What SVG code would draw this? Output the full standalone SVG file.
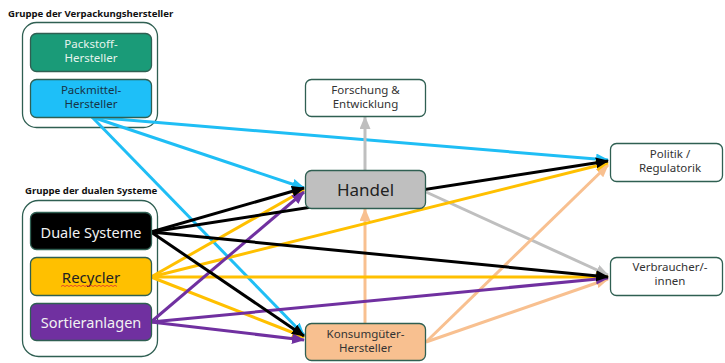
<svg xmlns="http://www.w3.org/2000/svg" width="725" height="363" viewBox="0 0 725 363">
<defs>
<style>
.t{font-family:"Noto Sans","Open Sans","DejaVu Sans",sans-serif;text-anchor:middle}
.title{font-family:"Noto Sans","Open Sans","DejaVu Sans",sans-serif;font-weight:bold;font-size:9.6px;fill:#111}
.grp{fill:#fff;stroke:#2f5f52;stroke-width:1.3}
.node{stroke:#2f5f52;stroke-width:1.3}
.c{fill:none;stroke-width:3}
</style>
<marker id="mBlue" markerUnits="userSpaceOnUse" markerWidth="13" markerHeight="11" refX="12" refY="5.5" orient="auto"><path d="M0,0 L13,5.5 L0,11 z" fill="#1fbef5"/></marker>
<marker id="mBlack" markerUnits="userSpaceOnUse" markerWidth="13" markerHeight="11" refX="12" refY="5.5" orient="auto"><path d="M0,0 L13,5.5 L0,11 z" fill="#000"/></marker>
<marker id="mYellow" markerUnits="userSpaceOnUse" markerWidth="13" markerHeight="11" refX="12" refY="5.5" orient="auto"><path d="M0,0 L13,5.5 L0,11 z" fill="#ffc000"/></marker>
<marker id="mPurple" markerUnits="userSpaceOnUse" markerWidth="13" markerHeight="11" refX="12" refY="5.5" orient="auto"><path d="M0,0 L13,5.5 L0,11 z" fill="#7030a0"/></marker>
<marker id="mGray" markerUnits="userSpaceOnUse" markerWidth="13" markerHeight="11" refX="12" refY="5.5" orient="auto"><path d="M0,0 L13,5.5 L0,11 z" fill="#bfbfbf"/></marker>
<marker id="mPeach" markerUnits="userSpaceOnUse" markerWidth="13" markerHeight="11" refX="12" refY="5.5" orient="auto"><path d="M0,0 L13,5.5 L0,11 z" fill="#f8c090"/></marker>
</defs>
<rect width="725" height="363" fill="#fff"/>

<g id="groups">
<text class="title" x="8" y="17">Gruppe der Verpackungshersteller</text>
<rect class="grp" x="22.5" y="22.5" width="135" height="105" rx="14"/>
<text class="title" x="25" y="194">Gruppe der dualen Systeme</text>
<rect class="grp" x="22.5" y="200.5" width="135" height="156" rx="16"/>
</g>

<g id="connectors">
<line class="c" stroke="#1fbef5" x1="92" y1="117" x2="608" y2="160" marker-end="url(#mBlue)"/>
<line class="c" stroke="#1fbef5" x1="92" y1="117" x2="304" y2="188" marker-end="url(#mBlue)"/>
<line class="c" stroke="#1fbef5" x1="92" y1="117" x2="304" y2="335" marker-end="url(#mBlue)"/>
<line class="c" stroke="#bfbfbf" x1="365" y1="170" x2="365" y2="117" marker-end="url(#mGray)"/>
<line class="c" stroke="#bfbfbf" x1="426" y1="192" x2="608" y2="275" marker-end="url(#mGray)"/>
<line class="c" stroke="#f8c090" x1="365" y1="323" x2="365" y2="209" marker-end="url(#mPeach)"/>
<line class="c" stroke="#f8c090" x1="426" y1="342" x2="608" y2="165" marker-end="url(#mPeach)"/>
<line class="c" stroke="#f8c090" x1="426" y1="342" x2="608" y2="279" marker-end="url(#mPeach)"/>
<line class="c" stroke="#ffc000" x1="151" y1="277" x2="304" y2="190" marker-end="url(#mYellow)"/>
<line class="c" stroke="#ffc000" x1="151" y1="277" x2="608" y2="163" marker-end="url(#mYellow)"/>
<line class="c" stroke="#ffc000" x1="151" y1="277" x2="608" y2="277" marker-end="url(#mYellow)"/>
<line class="c" stroke="#ffc000" x1="151" y1="277" x2="304" y2="337" marker-end="url(#mYellow)"/>
<line class="c" stroke="#7030a0" x1="151" y1="322" x2="304" y2="192" marker-end="url(#mPurple)"/>
<line class="c" stroke="#7030a0" x1="151" y1="322" x2="608" y2="278" marker-end="url(#mPurple)"/>
<line class="c" stroke="#7030a0" x1="151" y1="322" x2="304" y2="340" marker-end="url(#mPurple)"/>
<line class="c" stroke="#000" x1="151" y1="232" x2="304" y2="188" marker-end="url(#mBlack)"/>
<line class="c" stroke="#000" x1="151" y1="232" x2="608" y2="161" marker-end="url(#mBlack)"/>
<line class="c" stroke="#000" x1="151" y1="232" x2="608" y2="277" marker-end="url(#mBlack)"/>
<line class="c" stroke="#000" x1="151" y1="232" x2="304" y2="336" marker-end="url(#mBlack)"/>
</g>

<g id="packstoff">
<rect class="node" x="30.5" y="33.5" width="121" height="38" rx="6" fill="#1a9b78"/>
<text class="t" x="91" y="48" font-size="11.5" fill="#e6f4ee">Packstoff-</text>
<text class="t" x="91" y="62" font-size="11.5" fill="#e6f4ee">Hersteller</text>
</g>
<g id="packmittel">
<rect class="node" x="30.5" y="79.5" width="121" height="38" rx="6" fill="#1ebff8"/>
<text class="t" x="91" y="94" font-size="11.5" fill="#173447">Packmittel-</text>
<text class="t" x="91" y="108" font-size="11.5" fill="#173447">Hersteller</text>
</g>
<g id="duale">
<rect class="node" x="30.5" y="212.5" width="121" height="37" rx="6" fill="#000"/>
<text class="t" x="91" y="237.5" font-size="14.5" fill="#f2f2f2">Duale Systeme</text>
</g>
<g id="recycler">
<rect class="node" x="30.5" y="257.5" width="121" height="38" rx="6" fill="#ffc000"/>
<text class="t" x="91" y="283" font-size="15" fill="#222">Recycler</text>
<path d="M61,286.5 l2,-1.2 l2,1.2 l2,-1.2 l2,1.2 l2,-1.2 l2,1.2 l2,-1.2 l2,1.2 l2,-1.2 l2,1.2 l2,-1.2 l2,1.2 l2,-1.2 l2,1.2 l2,-1.2 l2,1.2 l2,-1.2 l2,1.2 l2,-1.2 l2,1.2 l2,-1.2 l2,1.2 l2,-1.2 l2,1.2 l2,-1.2 l2,1.2 l2,-1.2 l2,1.2" fill="none" stroke="#e03030" stroke-width="0.8"/>
</g>
<g id="sortier">
<rect class="node" x="30.5" y="303.5" width="121" height="37" rx="6" fill="#7030a0"/>
<text class="t" x="91" y="327.5" font-size="14.5" fill="#f2f2f2">Sortieranlagen</text>
</g>
<g id="forschung">
<rect class="node" x="305.5" y="79.5" width="120" height="37" rx="6" fill="#fff"/>
<text class="t" x="365.5" y="94" font-size="11.5" fill="#333">Forschung &amp;</text>
<text class="t" x="365.5" y="107.5" font-size="11.5" fill="#333">Entwicklung</text>
</g>
<g id="handel">
<rect class="node" x="305.5" y="170.5" width="120" height="38" rx="6" fill="#bfbfbf"/>
<text class="t" x="365.5" y="196" font-size="17" fill="#222">Handel</text>
</g>
<g id="konsum">
<rect class="node" x="305.5" y="323.5" width="120" height="37" rx="6" fill="#f8c090"/>
<text class="t" x="365.5" y="338" font-size="11.5" fill="#333">Konsumgüter-</text>
<text class="t" x="365.5" y="351.5" font-size="11.5" fill="#333">Hersteller</text>
</g>
<g id="politik">
<rect class="node" x="610.5" y="143.5" width="112" height="38" rx="6" fill="#fff"/>
<text class="t" x="670" y="158" font-size="11.5" fill="#333">Politik /</text>
<text class="t" x="670" y="171.5" font-size="11.5" fill="#333">Regulatorik</text>
</g>
<g id="verbraucher">
<rect class="node" x="610.5" y="257.5" width="112" height="38" rx="6" fill="#fff"/>
<text class="t" x="670" y="271" font-size="11.5" fill="#333">Verbraucher/-</text>
<text class="t" x="670" y="284.5" font-size="11.5" fill="#333">innen</text>
</g>
</svg>
